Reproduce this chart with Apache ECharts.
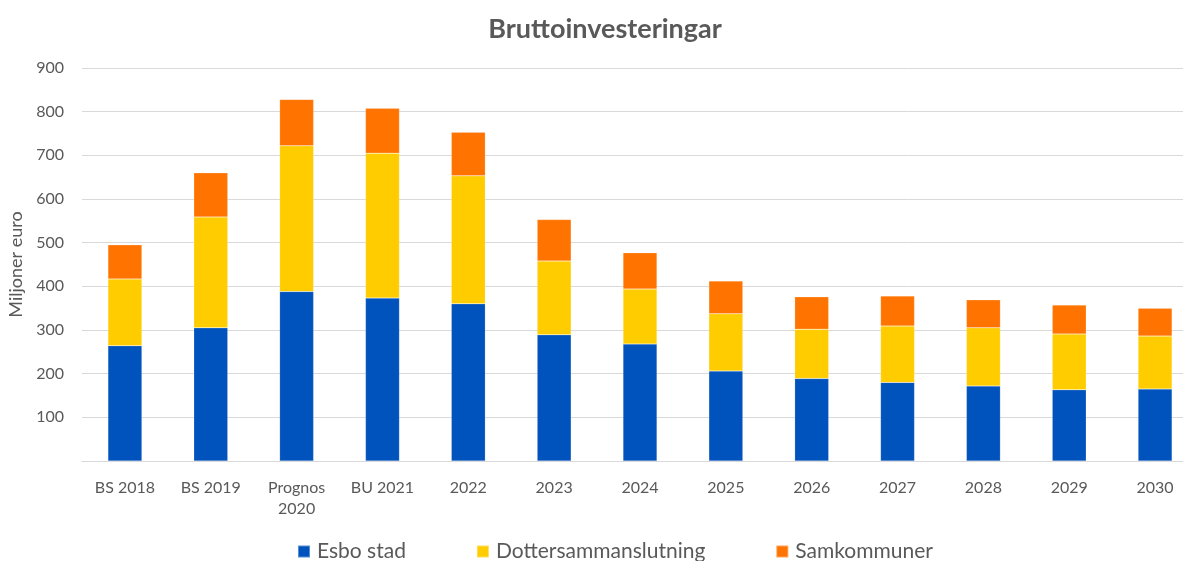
<!DOCTYPE html>
<html>
<head>
<meta charset="utf-8">
<script src="https://cdn.jsdelivr.net/npm/echarts@6/dist/echarts.min.js"></script>
<style>
  html, body { margin: 0; padding: 0; background: #fff; }
  #chart { width: 1183px; height: 561px; }
</style>
</head>
<body>
<div id="chart"></div>
<script>
const categories = ['BS 2018', 'BS 2019', 'Prognos\n2020', 'BU 2021', '2022', '2023', '2024', '2025', '2026', '2027', '2028', '2029', '2030'];
const esboStad = [264, 305, 388, 373, 360, 289, 268, 206, 189, 180, 172, 163, 165];
const dotter = [153, 254, 334, 332, 293, 169, 126, 131, 113, 129, 133, 128, 121];
const samkommuner = [78, 101, 106, 103, 100, 95, 83, 75, 74, 69, 64, 66, 64];

const font = 'Lato, "Open Sans", sans-serif';
const textColor = '#595959';

function barSeries(name, data, color) {
  return {
    name: name,
    type: 'bar',
    stack: 'total',
    data: data,
    barWidth: 34,
    itemStyle: { color: color, borderColor: 'rgba(255,255,255,0.35)', borderWidth: 0.5 },
    emphasis: { disabled: true }
  };
}

const myChart = echarts.init(document.getElementById('chart'), null, { renderer: 'canvas' });
myChart.setOption({
  animation: false,
  backgroundColor: '#fff',
  title: {
    text: 'Bruttoinvesteringar',
    left: 600,
    textAlign: 'center',
    top: 11,
    textStyle: { fontFamily: font, fontSize: 27, fontWeight: 'bold', color: textColor }
  },
  legend: {
    left: 292,
    top: 536,
    itemWidth: 12,
    itemHeight: 12,
    itemGap: 70,
    icon: 'rect',
    textStyle: { fontFamily: font, fontSize: 21, color: textColor, padding: [0, 0, 0, 2] },
    data: ['Esbo stad', 'Dottersammanslutning', 'Samkommuner']
  },
  grid: {
    left: 82,
    top: 68,
    width: 1116,
    height: 393,
    outerBoundsMode: 'none',
    containLabel: false
  },
  xAxis: {
    type: 'category',
    data: categories,
    axisLine: { lineStyle: { color: '#d9d9d9', width: 1 } },
    axisTick: { show: false },
    axisLabel: {
      fontFamily: font, fontSize: 16, color: textColor, margin: 16, lineHeight: 21,
      interval: 0
    }
  },
  yAxis: {
    type: 'value',
    min: 0,
    max: 900,
    interval: 100,
    name: 'Miljoner euro',
    nameLocation: 'middle',
    nameGap: 55,
    nameTextStyle: { fontFamily: font, fontSize: 18, color: textColor },
    axisLine: { show: false },
    axisTick: { show: false },
    splitLine: { lineStyle: { color: '#d9d9d9', width: 1 } },
    axisLabel: {
      fontFamily: font, fontSize: 16, color: textColor, margin: 18,
      formatter: v => (v === 0 ? '' : v)
    }
  },
  series: [
    barSeries('Esbo stad', esboStad, '#0052BC'),
    barSeries('Dottersammanslutning', dotter, '#FFCC00'),
    barSeries('Samkommuner', samkommuner, '#FF7400')
  ]
});
</script>
</body>
</html>
